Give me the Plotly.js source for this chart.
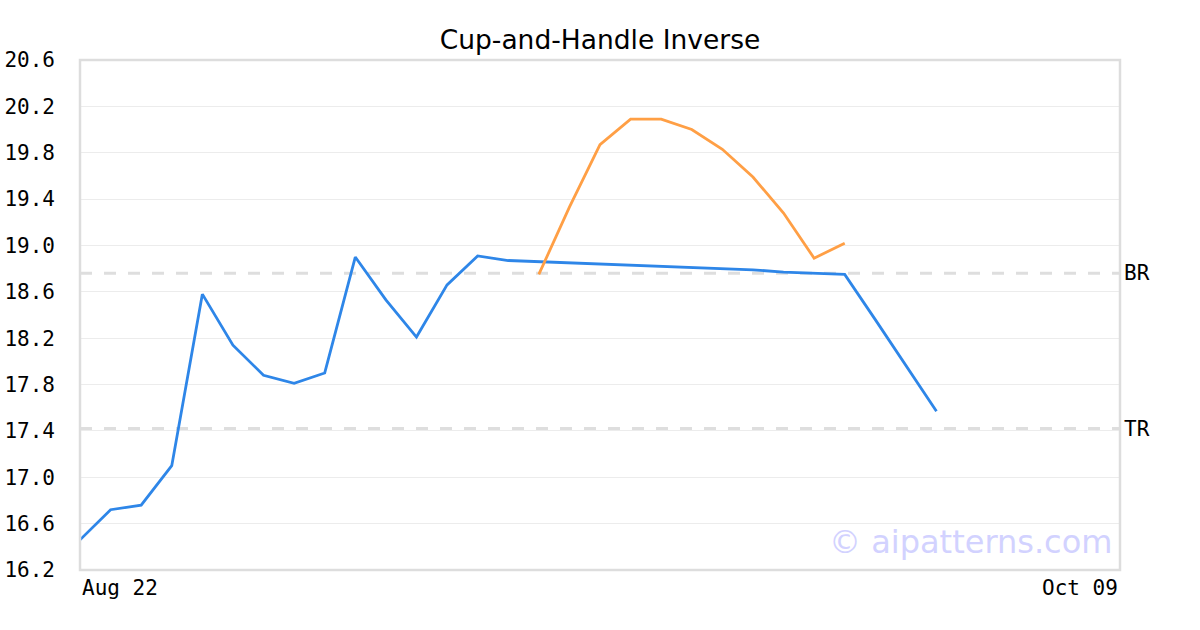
<!DOCTYPE html>
<html>
<head>
<meta charset="utf-8">
<script src="https://cdn.plot.ly/plotly-3.0.1.min.js"></script>
<style>html,body{margin:0;padding:0;background:#fff;}#chart{width:1200px;height:630px;}</style>
</head>
<body>
<div id="chart"></div>
<script>
// Data (index-based trading sessions from Aug 22 to Oct 09)
const xTickLabels = ["Aug 22", "Oct 09"];
const sessionCount = 35;
const priceValues = [16.46, 16.72, 16.76, 17.10, 18.58, 18.14, 17.88, 17.81, 17.90, 18.90,
                     18.53, 18.21, 18.66, 18.91, 18.87, 18.86, 18.85, 18.84, 18.83, 18.82,
                     18.81, 18.80, 18.79, 18.77, 18.76, 18.75, 18.36, 17.97, 17.57];
const cupStart = 15;
const cupValues = [18.75, 19.33, 19.87, 20.09, 20.09, 20.00, 19.83, 19.59, 19.28, 18.89, 19.02];
const levelNames = ["BR", "TR"];
const levelValues = [18.76, 17.42];
const yTickValues = [16.2, 16.6, 17.0, 17.4, 17.8, 18.2, 18.6, 19.0, 19.4, 19.8, 20.2, 20.6];

const priceX = priceValues.map((_, i) => i);
const cupX = cupValues.map((_, i) => cupStart + i);

const traces = [
  {x: priceX, y: priceValues, type: 'scatter', mode: 'lines',
   line: {color: '#2e86e8', width: 2.8}, hoverinfo: 'skip'},
  {x: cupX, y: cupValues, type: 'scatter', mode: 'lines',
   line: {color: '#ff9f45', width: 2.8}, hoverinfo: 'skip'}
];

const shapes = levelValues.map(v => ({
  type: 'line', xref: 'paper', x0: 0, x1: 1, yref: 'y', y0: v, y1: v,
  line: {color: '#dedede', width: 3, dash: '12px,12px'}, layer: 'below'
}));
shapes.push({type: 'rect', xref: 'paper', yref: 'paper', x0: 0, x1: 1, y0: 0, y1: 1,
  line: {color: '#dddddd', width: 2.5}, layer: 'above'});

const annotations = levelNames.map((n, i) => ({
  xref: 'paper', x: 1, xanchor: 'left', xshift: 2, yref: 'y', y: levelValues[i], yanchor: 'middle',
  text: n, showarrow: false, font: {family: 'DejaVu Sans Mono', size: 21, color: '#000'}
}));
annotations.push({xref: 'paper', x: 0, xanchor: 'left', yref: 'paper', y: 0, yanchor: 'top', yshift: -4,
  text: xTickLabels[0], showarrow: false, font: {family: 'DejaVu Sans Mono', size: 21, color: '#000'}});
annotations.push({xref: 'paper', x: 1, xanchor: 'right', yref: 'paper', y: 0, yanchor: 'top', yshift: -4,
  text: xTickLabels[1], showarrow: false, font: {family: 'DejaVu Sans Mono', size: 21, color: '#000'}});
annotations.push({xref: 'paper', x: 1, xanchor: 'right', xshift: -6, yref: 'y', y: 16.44, yanchor: 'middle',
  text: '© aipatterns.com', showarrow: false, font: {family: 'DejaVu Sans', size: 32, color: '#d2d2ff'}});

const layout = {
  width: 1200, height: 630,
  margin: {l: 80, r: 80, t: 60, b: 60},
  paper_bgcolor: '#fff', plot_bgcolor: '#fff',
  showlegend: false,
  title: {text: 'Cup-and-Handle Inverse', x: 0.5, xanchor: 'center', y: 0.937, yanchor: 'middle',
          font: {family: 'DejaVu Sans', size: 26.5, color: '#000'}},
  xaxis: {range: [0, sessionCount - 1], showgrid: false, zeroline: false, showticklabels: false,
          ticks: '', showline: false},
  yaxis: {range: [16.2, 20.6], tickvals: yTickValues, ticktext: yTickValues.map(v => v.toFixed(1)),
          showgrid: true, gridcolor: '#ececec', gridwidth: 1, zeroline: false, ticks: '',
          ticklabelstandoff: 24, showline: false,
          tickfont: {family: 'DejaVu Sans Mono', size: 21, color: '#000'}},
  shapes: shapes,
  annotations: annotations
};

Plotly.newPlot('chart', traces, layout, {staticPlot: true, displayModeBar: false});
</script>
</body>
</html>
